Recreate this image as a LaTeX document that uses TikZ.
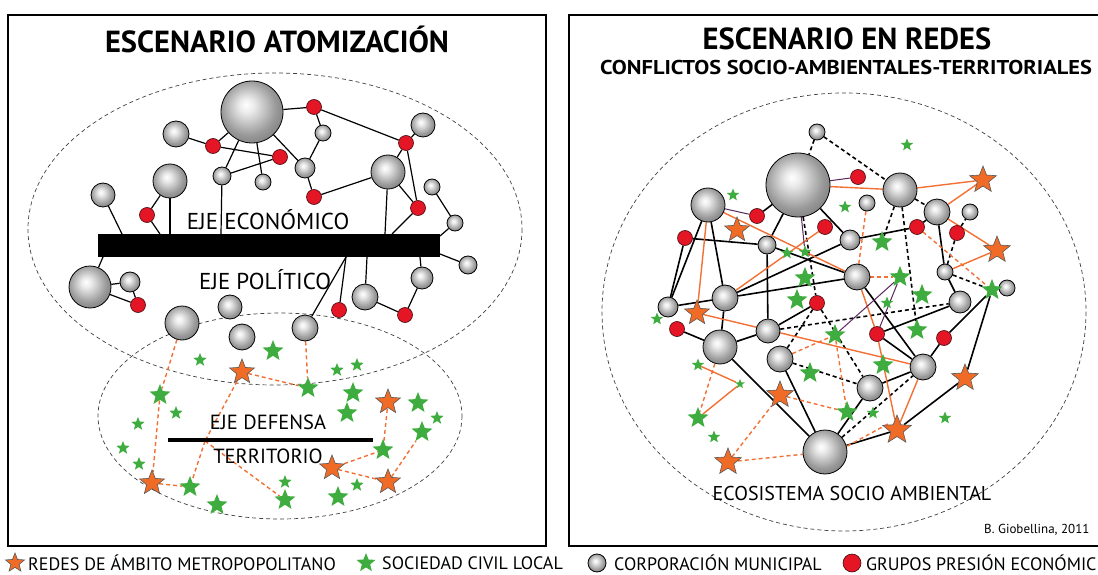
\documentclass[tikz,border=0pt]{standalone}
\usepackage{fontspec}
\setmainfont{PT Sans}
\newfontfamily\widefont[FakeStretch=1.12]{PT Sans}
\usetikzlibrary{shapes.geometric,backgrounds}
\definecolor{redesor}{RGB}{240,108,38}
\definecolor{civgreen}{RGB}{62,172,62}
\definecolor{presred}{RGB}{228,22,38}
\definecolor{linkor}{RGB}{242,112,52}
\definecolor{linkpur}{RGB}{88,40,92}
\pgfdeclareradialshading{sphereshade}{\pgfpoint{-5bp}{6bp}}{color(0bp)=(white); color(6bp)=(black!8); color(22bp)=(black!40); color(38bp)=(black!60); color(50bp)=(black!78)}
\begin{document}
\begin{tikzpicture}[x=1pt,y=-1pt,
    muni/.style={circle,draw=black,line width=0.8pt,shading=sphereshade,minimum size=#1,inner sep=0pt},
    pres/.style={circle,draw=black!70!presred,line width=0.6pt,fill=presred,minimum size=15,inner sep=0pt},
    redes/.style={star,star points=5,star point ratio=2.3,draw=black!65,line width=0.6pt,fill=redesor,minimum size=#1,inner sep=0pt},
    civil/.style={star,star points=5,star point ratio=2.3,fill=civgreen,minimum size=#1,inner sep=0pt},
    lnk/.style={line width=1.2pt},
    rlnk/.style={line width=1.6pt},
    dlnk/.style={line width=1.6pt,dash pattern=on 4pt off 3pt},
    olnk/.style={linkor,line width=1.4pt},
    odlnk/.style={linkor,line width=1.4pt,dash pattern=on 4pt off 3pt},
    plnk/.style={linkpur,line width=1pt},
    zone/.style={black!75,line width=0.7pt,dash pattern=on 4pt off 3pt},
    frame/.style={line width=1.4pt},
    titulo/.style={font=\fontsize{30.5}{32}\selectfont\bfseries},
    eje/.style={font=\fontsize{23}{25}\selectfont},
    leyenda/.style={font=\fontsize{18}{19}\selectfont,anchor=west,inner sep=0pt}]
\useasboundingbox (0,0) rectangle (1098,575);
\draw[frame] (8,15) rectangle (546,546);
\draw[frame] (569,15) rectangle (1110,546);

% titulos
\node[titulo] (t1) at (277,39) {ESCENARIO ATOMIZACIÓN};
\node[titulo] (t2) at (847,39) {ESCENARIO EN REDES};
\node[font=\widefont\fontsize{20}{22}\selectfont\bfseries] (t3) at (846,68) {CONFLICTOS SOCIO-AMBIENTALES-TERRITORIALES};

% escenario atomizacion: ejes
\node[fill=black,minimum width=342,minimum height=23,inner sep=0pt] (lbar) at (269,245.5) {};
\node[eje] (econ) at (268,220) {EJE ECONÓMICO};
\node[eje] (poli) at (265,280) {EJE POLÍTICO};
\node[fill=black,minimum width=205,minimum height=3.5,inner sep=0pt] (ldef) at (270.5,440) {};
\node[eje,font=\fontsize{20.5}{22}\selectfont] (defe) at (268,422) {EJE DEFENSA};
\node[eje,font=\fontsize{20.5}{22}\selectfont] (terr) at (268,456) {TERRITORIO};

% corporaciones municipales
\node[muni=62] (lm1) at (252,112) {};
\node[muni=26] (lm2) at (176,134) {};
\node[muni=34] (lm3) at (170,181) {};
\node[muni=24] (lm4) at (103,195) {};
\node[muni=18] (lm5) at (222,176) {};
\node[muni=16] (lm6) at (263,182) {};
\node[muni=16] (lm7) at (323,133) {};
\node[muni=20] (lm8) at (305,168) {};
\node[muni=34] (lm9) at (388,172) {};
\node[muni=24] (lm10) at (423,125) {};
\node[muni=16] (lm11) at (432,187) {};
\node[muni=16] (lm12) at (455,223) {};
\node[muni=42] (lm13) at (90,287) {};
\node[muni=20] (lm14) at (130,282) {};
\node[muni=34] (lm15) at (182,323) {};
\node[muni=24] (lm16) at (230,307) {};
\node[muni=26] (lm17) at (242,337) {};
\node[muni=26] (lm18) at (305,328) {};
\node[muni=26] (lm19) at (365,297) {};
\node[muni=22] (lm20) at (422,278) {};
\node[muni=18] (lm21) at (468,265) {};

% grupos presion
\node[pres] (lp1) at (213,146) {};
\node[pres] (lp2) at (147,215) {};
\node[pres] (lp3) at (280,157) {};
\node[pres] (lp4) at (314,107) {};
\node[pres] (lp5) at (314,197) {};
\node[pres] (lp6) at (406,143) {};
\node[pres] (lp7) at (418,208) {};
\node[pres] (lp8) at (138,305) {};
\node[pres] (lp9) at (339,310) {};
\node[pres] (lp10) at (405,315) {};

% redes y sociedad civil
\node[redes=26] (lr1) at (242,372) {};
\node[redes=26] (lr2) at (388,402) {};
\node[redes=26] (lr3) at (152,483) {};
\node[redes=26] (lr4) at (332,468) {};
\node[redes=26] (lr5) at (388,482) {};
\node[civil=22] (lc1) at (273,351) {};
\node[civil=22] (lc2) at (308,388) {};
\node[civil=22] (lc3) at (353,393) {};
\node[civil=22] (lc4) at (347,413) {};
\node[civil=22] (lc5) at (160,395) {};
\node[civil=22] (lc6) at (418,403) {};
\node[civil=22] (lc7) at (422,432) {};
\node[civil=22] (lc8) at (383,450) {};
\node[civil=22] (lc9) at (338,497) {};
\node[civil=22] (lc10) at (285,500) {};
\node[civil=22] (lc11) at (190,487) {};
\node[civil=22] (lc12) at (217,505) {};
\node[civil=14] (lc13) at (200,360) {};
\node[civil=14] (lc14) at (337,370) {};
\node[civil=14] (lc15) at (357,365) {};
\node[civil=14] (lc16) at (176,413) {};
\node[civil=14] (lc17) at (138,424) {};
\node[civil=14] (lc18) at (123,448) {};
\node[civil=14] (lc19) at (139,464) {};
\node[civil=14] (lc20) at (437,418) {};
\node[civil=14] (lc21) at (357,485) {};
\node[civil=14] (lc22) at (285,482) {};

% puntos sobre los ejes
\coordinate (ba) at (122,234);
\coordinate (bb) at (160,234);
\coordinate (bc) at (170,234);
\coordinate (bd) at (221,234);
\coordinate (be) at (385,234);
\coordinate (bf) at (392,234);
\coordinate (bg) at (440,236);
\coordinate (bh) at (440,254);
\coordinate (bi) at (420,257);
\coordinate (bj) at (367,257);
\coordinate (bk) at (346,257);
\coordinate (bl) at (103,257);
\coordinate (ld) at (205,441);

% escenario en redes
\node[muni=64] (rm1) at (798,185) {};
\node[muni=16] (rm2) at (817,132) {};
\node[muni=34] (rm3) at (708,205) {};
\node[muni=18] (rm4) at (767,245) {};
\node[muni=20] (rm5) at (850,240) {};
\node[muni=16] (rm6) at (867,203) {};
\node[muni=26] (rm7) at (857,277) {};
\node[muni=34] (rm8) at (900,190) {};
\node[muni=26] (rm9) at (937,212) {};
\node[muni=16] (rm10) at (970,212) {};
\node[muni=16] (rm11) at (945,272) {};
\node[muni=16] (rm12) at (1007,288) {};
\node[muni=20] (rm13) at (668,307) {};
\node[muni=26] (rm14) at (725,298) {};
\node[muni=34] (rm15) at (720,347) {};
\node[muni=24] (rm16) at (768,331) {};
\node[muni=26] (rm17) at (780,359) {};
\node[muni=44] (rm18) at (825,452) {};
\node[muni=26] (rm19) at (870,388) {};
\node[muni=22] (rm20) at (960,302) {};
\node[muni=26] (rm21) at (923,367) {};

\node[pres] (rp1) at (757,216) {};
\node[pres] (rp2) at (685,238) {};
\node[pres] (rp3) at (825,227) {};
\node[pres] (rp4) at (858,177) {};
\node[pres] (rp5) at (917,227) {};
\node[pres] (rp6) at (957,233) {};
\node[pres] (rp7) at (817,303) {};
\node[pres] (rp8) at (677,329) {};
\node[pres] (rp9) at (877,334) {};
\node[pres] (rp10) at (944,338) {};

\node[redes=26] (rr1) at (737,230) {};
\node[redes=26] (rr2) at (697,313) {};
\node[redes=28] (rr3) at (983,180) {};
\node[redes=28] (rr4) at (997,250) {};
\node[redes=28] (rr5) at (965,378) {};
\node[redes=30] (rr6) at (897,430) {};
\node[redes=28] (rr7) at (780,395) {};
\node[redes=28] (rr8) at (728,462) {};

\node[civil=22] (rc1) at (805,278) {};
\node[civil=22] (rc2) at (797,300) {};
\node[civil=22] (rc3) at (882,242) {};
\node[civil=22] (rc4) at (900,277) {};
\node[civil=22] (rc5) at (922,295) {};
\node[civil=22] (rc6) at (917,330) {};
\node[civil=22] (rc7) at (883,365) {};
\node[civil=22] (rc8) at (847,412) {};
\node[civil=22] (rc9) at (835,335) {};
\node[civil=22] (rc10) at (810,373) {};
\node[civil=22] (rc11) at (698,418) {};
\node[civil=22] (rc12) at (992,290) {};
\node[civil=13] (rc13) at (733,195) {};
\node[civil=13] (rc14) at (845,207) {};
\node[civil=13] (rc15) at (907,145) {};
\node[civil=13] (rc16) at (787,253) {};
\node[civil=13] (rc17) at (805,252) {};
\node[civil=13] (rc18) at (887,303) {};
\node[civil=13] (rc19) at (873,413) {};
\node[civil=13] (rc20) at (945,418) {};
\node[civil=13] (rc21) at (698,365) {};
\node[civil=13] (rc22) at (714,437) {};
\node[civil=13] (rc23) at (657,319) {};
\node[civil=10] (rc24) at (740,384) {};

\node[font=\fontsize{20}{22}\selectfont] (eco) at (852,493) {ECOSISTEMA SOCIO AMBIENTAL};
\node[font=\fontsize{13}{15}\selectfont,anchor=east] (autor) at (1093,530) {B. Giobellina, 2011};

% leyenda
\node[redes=20] (kr) at (15,563) {};
\node[leyenda] (kr txt) at (28,563) {REDES DE ÁMBITO METROPOPOLITANO};
\node[civil=20] (kc) at (366,563) {};
\node[leyenda] (kc txt) at (382,563) {SOCIEDAD CIVIL LOCAL};
\node[muni=18] (km) at (597,563) {};
\node[leyenda] (km txt) at (614,563) {CORPORACIÓN MUNICIPAL};
\node[pres,minimum size=18] (kp) at (852,563) {};
\node[leyenda] (kp txt) at (866,563) {GRUPOS PRESIÓN ECONÓMIC};

\begin{scope}[on background layer]
  \draw[zone] (275,229) ellipse [x radius=247, y radius=156];
  \draw[zone] (280,416) ellipse [x radius=182, y radius=103];
  \draw[zone] (844,312) ellipse [x radius=242, y radius=219];
  % eje economico y politico
  \draw[lnk] (lm1) -- (lp4);
  \draw[lnk] (lp4) -- (lm7);
  \draw[lnk] (lm7) -- (lm8);
  \draw[lnk] (lm1) -- (lm8);
  \draw[lnk] (lm8) -- (lp5);
  \draw[lnk] (lp5) -- (lm9);
  \draw[lnk] (lp4) -- (lp6);
  \draw[lnk] (lp6) -- (lm10);
  \draw[lnk] (lp6) -- (lm9);
  \draw[lnk] (lp6) -- (lp7);
  \draw[lnk] (lm9) -- (lp7);
  \draw[lnk] (lm9) -- (be);
  \draw[lnk] (lp7) -- (bf);
  \draw[lnk] (lm11) -- (lm12);
  \draw[lnk] (lm12) -- (bg);
  \draw[lnk] (lm21) -- (bh);
  \draw[lnk] (lm20) -- (bi);
  \draw[lnk] (lm20) -- (lp10);
  \draw[lnk] (lp10) -- (lm19);
  \draw[lnk] (lm19) -- (bj);
  \draw[lnk] (lp9) -- (bk);
  \draw[lnk] (lm18) -- (bk);
  \draw[lnk] (lm2) -- (lp1);
  \draw[lnk] (lp1) -- (lm1);
  \draw[lnk] (lp1) -- (lp3);
  \draw[lnk] (lm1) -- (lm5);
  \draw[lnk] (lm1) -- (lm6);
  \draw[lnk] (lm5) -- (lp3);
  \draw[lnk] (lm5) -- (bd);
  \draw[lnk] (lm3) -- (bc);
  \draw[lnk] (lm3) -- (lp2);
  \draw[lnk] (lp2) -- (bb);
  \draw[lnk] (lm4) -- (ba);
  \draw[lnk] (lm13) -- (bl);
  \draw[lnk] (lm13) -- (lm14);
  \draw[lnk] (lm13) -- (lp8);
  \draw[lnk] (lm14) -- (lp8);
  % eje defensa territorio
  \draw[odlnk] (lm15) -- (lc5);
  \draw[odlnk] (lc5) -- (lr3);
  \draw[odlnk] (lr3) -- (lc11);
  \draw[odlnk] (lr1) -- (ld);
  \draw[odlnk] (ld) -- (lc11);
  \draw[odlnk] (ld) -- (lc10);
  \draw[odlnk] (lr1) -- (lc2);
  \draw[odlnk] (lm18) -- (lc2);
  \draw[odlnk] (lr4) -- (lc8);
  \draw[odlnk] (lr4) -- (lr5);
  \draw[odlnk] (lc8) -- (lr2);
  \draw[odlnk] (lr5) -- (lc7);
  % redes
  \draw[rlnk] (rm3) -- (rm13);
  \draw[rlnk] (rp2) -- (rm13);
  \draw[rlnk] (rm3) -- (rm14);
  \draw[rlnk] (rp2) -- (rm4);
  \draw[rlnk] (rm4) -- (rm7);
  \draw[rlnk] (rm4) -- (rm16);
  \draw[rlnk] (rm14) -- (rm5);
  \draw[rlnk] (rm14) -- (rm7);
  \draw[rlnk] (rm13) -- (rm14);
  \draw[rlnk] (rm14) -- (rm15);
  \draw[rlnk] (rp8) -- (rm15);
  \draw[rlnk] (rm15) -- (rm16);
  \draw[rlnk] (rm16) -- (rp7);
  \draw[rlnk] (rm15) -- (rm18);
  \draw[rlnk] (rm17) -- (rm18);
  \draw[rlnk] (rm18) -- (rm19);
  \draw[rlnk] (rm18) -- (rr6);
  \draw[rlnk] (rr6) -- (rr5);
  \draw[rlnk] (rr5) -- (rc12);
  \draw[rlnk] (rc12) -- (rp10);
  \draw[rlnk] (rp10) -- (rm21);
  \draw[rlnk] (rm19) -- (rm21);
  \draw[rlnk] (rp9) -- (rm21);
  \draw[rlnk] (rm7) -- (rm21);
  \draw[rlnk] (rm5) -- (rp5);
  \draw[rlnk] (rp5) -- (rm9);
  \draw[rlnk] (rm9) -- (rm11);
  \draw[rlnk] (rm11) -- (rm20);
  \draw[rlnk] (rm20) -- (rp9);
  \draw[rlnk] (rm1) -- (rm5);
  \draw[rlnk] (rm1) -- (rm4);
  \draw[rlnk] (rm1) -- (rp1);
  \draw[dlnk] (rm2) -- (rm1);
  \draw[dlnk] (rm2) -- (rm8);
  \draw[dlnk] (rm8) -- (rm9);
  \draw[dlnk] (rm8) -- (rc3);
  \draw[dlnk] (rm8) -- (rc6);
  \draw[dlnk] (rp6) -- (rm11);
  \draw[dlnk] (rp6) -- (rm10);
  \draw[dlnk] (rm11) -- (rc12);
  \draw[dlnk] (rm1) -- (rp7);
  \draw[dlnk] (rm16) -- (rm20);
  \draw[dlnk] (rp7) -- (rm17);
  \draw[dlnk] (rm17) -- (rm19);
  \draw[dlnk] (rp7) -- (rm19);
  \draw[dlnk] (rm18) -- (rm21);
  \draw[olnk] (rm1) -- (rm8);
  \draw[olnk] (rm8) -- (rr3);
  \draw[olnk] (rm9) -- (rr3);
  \draw[olnk] (rm9) -- (rr4);
  \draw[olnk] (rr4) -- (rm11);
  \draw[olnk] (rm3) -- (rr2);
  \draw[olnk] (rm3) -- (rm7);
  \draw[olnk] (rm14) -- (rp3);
  \draw[olnk] (rr2) -- (rm21);
  \draw[olnk] (rm7) -- (rp9);
  \draw[olnk] (rp9) -- (rr6);
  \draw[olnk] (rm21) -- (rr6);
  \draw[olnk] (rc21) -- (rc24);
  \draw[olnk] (rc24) -- (rc11);
  \draw[odlnk] (rr8) -- (rm18);
  \draw[odlnk] (rr8) -- (rr7);
  \draw[odlnk] (rr7) -- (rc8);
  \draw[odlnk] (rm15) -- (rc11);
  \draw[odlnk] (rm17) -- (rc9);
  \draw[odlnk] (rc9) -- (rc8);
  \draw[odlnk] ([yshift=6pt]rm18.east) -- ([yshift=6pt]rr6.west);
  \draw[odlnk] (rm6) -- (rm7);
  \draw[odlnk] (rm7) -- (rc4);
  \draw[odlnk] (rp5) -- (rc12);
  \draw[plnk] (rm1) -- (rp4);
  \draw[plnk] (rm3) -- (rp1);
  \draw[plnk] (rm1) -- (rc17);
  \draw[plnk] (rc9) -- (rc4);
  \draw[plnk] (rp9) -- (rc4);
\end{scope}
\end{tikzpicture}
\end{document}
